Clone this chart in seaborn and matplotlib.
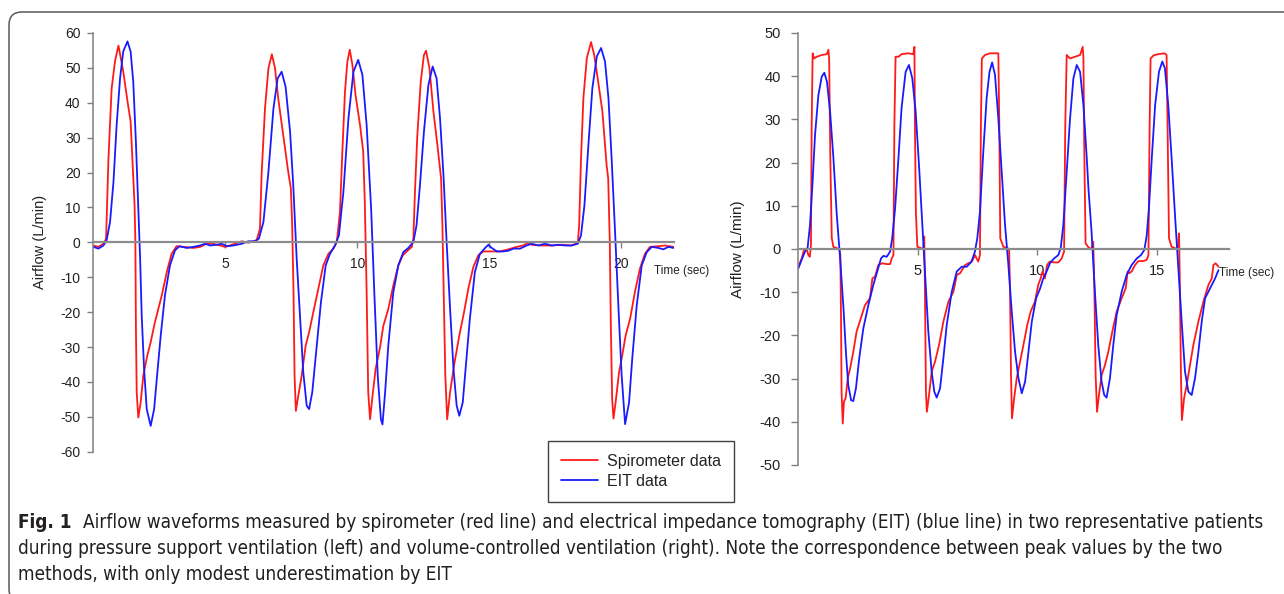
import matplotlib
matplotlib.use("Agg")
import matplotlib.pyplot as plt
import seaborn as sns
from matplotlib import font_manager
from matplotlib.font_manager import FontProperties
from matplotlib.patches import FancyBboxPatch
from matplotlib.transforms import IdentityTransform

# ---------------- data ----------------
# Left panel: pressure support ventilation
left_spiro_t = [0.00, 0.19, 0.38, 0.48, 0.57, 0.69, 0.82, 0.95, 1.13, 1.30, 1.41, 1.49, 1.56, 1.59, 1.61, 1.64, 1.70,
                1.79, 1.89, 2.04, 2.17, 2.33, 2.59, 2.78, 2.96, 3.15, 3.41, 3.79, 4.04, 4.29, 4.54, 4.80, 4.98, 5.17,
                5.36, 5.62, 5.87, 6.18, 6.31, 6.37, 6.50, 6.63, 6.76, 6.88, 7.00, 7.19, 7.38, 7.48, 7.53, 7.58, 7.62,
                7.67, 7.76, 7.89, 8.04, 8.17, 8.33, 8.52, 8.71, 8.90, 9.09, 9.22, 9.34, 9.43, 9.53, 9.62, 9.71, 9.81,
                9.93, 10.10, 10.22, 10.28, 10.35, 10.41, 10.48, 10.56, 10.69, 10.86, 10.98, 11.17, 11.36, 11.55,
                11.72, 11.87, 12.06, 12.12, 12.18, 12.27, 12.40, 12.52, 12.60, 12.73, 12.88, 13.03, 13.17, 13.22,
                13.27, 13.33, 13.40, 13.51, 13.66, 13.86, 14.04, 14.20, 14.39, 14.58, 14.77, 15.02, 15.40, 15.72,
                16.03, 16.28, 16.47, 16.60, 16.98, 17.36, 17.73, 18.11, 18.35, 18.40, 18.47, 18.56, 18.69, 18.85,
                18.97, 19.12, 19.28, 19.44, 19.50, 19.56, 19.60, 19.65, 19.70, 19.78, 19.91, 20.03, 20.16, 20.33,
                20.51, 20.70, 20.89, 21.08, 21.40, 21.65, 21.97]
left_spiro_v = [-0.9, -1.3, -0.4, 1.0, 24, 44, 52, 56.4, 49, 40, 34.6, 22, 10.6, 0, -24, -43, -50.2,
                -45.9, -38.2, -32.5, -28.6, -22.9, -15.2, -8.5, -3.3, -1.1, -1.3, -1.6, -1.3, -0.4, -0.4, -0.9, -1.3, -0.9,
                -0.4, 0.3, -0.1, 0.6, 3.9, 19.3, 38.4, 49.9, 53.9, 49.9, 41.3, 30.7, 20.2, 15.4, 4.9, -14.3, -38.2,
                -48.3, -44, -38.2, -29.6, -25.8, -20, -13.3, -6.6, -3.3, -1.8, 0.1, 8.7, 26, 43.2, 51.8, 55.2, 50.9,
                42.2, 33.6, 26, 11.6, -14.3, -43, -50.7, -44.9, -36.3, -30, -24, -19.1, -12.4, -6.6,
                -3.7, -2.6, -1.3, 1.1, 14.5, 30.7, 46.1, 53.7, 54.9, 49.9, 37.5, 27.9, 18.3, 4.9,
                -14.3, -38.2, -50.7, -43, -35.3, -26.7, -20, -13.3, -7.1, -3.7, -2.6, -2.6, -2.6, -2.0,
                -1.3, -0.9, -0.1, -0.7, -0.9, -0.9, -0.7, -0.9, -0.1, 4.9, 24, 41.3, 52.8, 57.4,
                53.7, 46.1, 37.5, 22.1, 18.3, 0.1, -23.9, -44.9, -50.5, -45.9, -37.3, -32.5, -26.7, -21.9,
                -14.3, -7.6, -3.3, -1.3, -1.1, -0.9, -1.3]

left_eit_t = [0.00, 0.19, 0.38, 0.50, 0.63, 0.76, 0.88, 1.01, 1.13, 1.29, 1.41, 1.51, 1.61, 1.70, 1.77, 1.83, 1.92,
              2.02, 2.17, 2.30, 2.40, 2.55, 2.71, 2.90, 3.09, 3.26, 3.53, 3.79, 4.04, 4.23, 4.42, 4.67, 4.86, 5.05,
              5.30, 5.62, 5.87, 6.12, 6.27, 6.44, 6.63, 6.82, 6.98, 7.13, 7.28, 7.45, 7.57, 7.70, 7.83, 7.95, 8.08,
              8.17, 8.29, 8.46, 8.62, 8.80, 8.96, 9.15, 9.30, 9.47, 9.66, 9.85, 10.03, 10.19, 10.35, 10.52, 10.64,
              10.77, 10.89, 10.95, 11.05, 11.17, 11.36, 11.55, 11.74, 11.93, 12.12, 12.24, 12.37, 12.52, 12.69,
              12.85, 13.00, 13.13, 13.26, 13.38, 13.51, 13.64, 13.76, 13.86, 13.99, 14.11, 14.26, 14.45, 14.64,
              14.84, 14.96, 15.09, 15.28, 15.53, 15.72, 15.91, 16.16, 16.41, 16.60, 16.85, 17.10, 17.36, 17.61,
              17.86, 18.11, 18.35, 18.47, 18.60, 18.75, 18.90, 19.07, 19.23, 19.38, 19.51, 19.63, 19.76, 19.89,
              20.01, 20.14, 20.29, 20.41, 20.58, 20.77, 20.96, 21.15, 21.40, 21.59, 21.78, 21.97]
left_eit_v = [-1.3, -1.8, -0.9, 0.6, 5.8, 17.3, 33.6, 47, 54.7, 57.6, 54.7, 46, 28.8, 9.7, -4.7, -21, -36.3,
              -47.8, -52.6, -47.8, -39.2, -26.7, -15.2, -6.6, -2.3, -1.1, -1.6, -1.3, -0.9, -0.4, -0.9, -0.7, -0.4, -1.1,
              -0.9, -0.4, 0.3, 0.3, 1.1, 5.8, 20.2, 38.4, 47, 48.9, 44.6, 31.7, 16.4, -4.7, -21.9, -37.3, -46.8,
              -47.8, -43, -29.6, -17.1, -6.6, -3.3, -0.9, 2, 14.5, 35.5, 48.9, 52.3, 48, 33.6, 9.7, -14.3,
              -38.2, -50.7, -52.2, -43, -29.6, -14.3, -6.6, -2.8, -1.6, 0.1, 4.9, 16.4, 31.7, 45.1,
              50.4, 47, 35.5, 19.3, 0.1, -19, -36.3, -46.8, -49.7, -45.9, -35.3, -21.9, -8.5, -3.3,
              -1.6, -0.7, -1.6, -2.6, -2.6, -2.4, -1.8, -1.8, -0.9, -0.4, -0.9, -0.4, -0.9, -0.7,
              -0.9, -0.9, -0.4, 2, 10.6, 27.9, 44.2, 53.3, 55.7, 51.8, 41.3, 24, 3, -19,
              -38.2, -52.1, -45.9, -33.4, -18.1, -6.6, -2.8, -1.3, -1.6, -2.0, -1.3, -1.6]

# Right panel: volume-controlled ventilation
right_spiro_t = [0.00, 0.14, 0.25, 0.35, 0.42, 0.48, 0.53, 0.56, 0.60, 0.66, 0.77, 0.98, 1.19, 1.26, 1.29, 1.34, 1.40,
                 1.47, 1.61, 1.72, 1.76, 1.79, 1.81, 1.86, 1.91, 1.98, 2.07, 2.17, 2.30, 2.44, 2.62, 2.79, 3.00, 3.10,
                 3.21, 3.35, 3.52, 3.70, 3.84, 3.91, 3.98, 4.02, 4.07, 4.19, 4.32, 4.60, 4.81, 4.86, 4.88, 4.92, 4.98,
                 5.13, 5.23, 5.27, 5.30, 5.34, 5.38, 5.47, 5.58, 5.72, 5.89, 6.07, 6.28, 6.49, 6.63, 6.77, 6.98, 7.12,
                 7.26, 7.40, 7.46, 7.53, 7.60, 7.64, 7.68, 7.81, 8.02, 8.37, 8.41, 8.45, 8.58, 8.72, 8.82, 8.86, 8.90,
                 8.94, 9.03, 9.14, 9.28, 9.42, 9.58, 9.72, 9.90, 10.04, 10.14, 10.22, 10.32, 10.41, 10.52, 10.67,
                 10.88, 11.02, 11.12, 11.17, 11.23, 11.37, 11.58, 11.79, 11.90, 11.93, 11.97, 12.02, 12.14, 12.27,
                 12.34, 12.39, 12.44, 12.50, 12.58, 12.69, 12.83, 12.97, 13.14, 13.32, 13.53, 13.70, 13.78, 13.85,
                 13.95, 14.09, 14.23, 14.44, 14.58, 14.65, 14.70, 14.74, 14.86, 15.06, 15.33, 15.41, 15.45, 15.51,
                 15.62, 15.76, 15.87, 15.93, 15.97, 16.01, 16.05, 16.14, 16.25, 16.39, 16.53, 16.74, 16.95, 17.16,
                 17.30, 17.37, 17.46, 17.58]
right_spiro_v = [-4.1, -2.2, 0, 0, -1.4, -1.8, 0.9, 28.7, 45.3, 44.1, 44.5, 44.9, 45.1, 46.1, 44.1, 21, 2.5,
                 0.5, 0.2, 0, -1.4, -17.6, -33, -40.4, -35.3, -34.6, -29.9, -27.6, -23.8, -19.1, -16, -13, -11.4, -6.8,
                 -6.4, -3.7, -3.3, -3.5, -3.5, -2.2, -1.4, 28.7, 44.5, 44.5, 45.1, 45.3, 45.1, 46.8, 28.7, 8.6, 0.5,
                 0.2, 0, 2.9, -9.9, -33, -37.7, -33.8, -28.4, -26.1, -22.2, -16.8, -12.2, -9.9, -6, -5.6, -3.7, -3.3,
                 -2.9, -1.4, -2.2, -2.9, -1.4, 28.7, 44.1, 44.9, 45.3, 45.3, 28.7, 2.5, 0.5, 0.3, 0, -9.9, -29.2,
                 -39.2, -34.6, -29.9, -26.1, -22.2, -17.6, -14.5, -12.2, -8.3, -6.8, -5.2, -6.8, -3.7, -2.9, -3.1,
                 -3.1, -2.2, -0.6, 28.7, 44.9, 44.1, 44.5, 44.9, 46.8, 44.1, 21, 1.3, 0.4, 0,
                 1.7, -9.9, -29.2, -37.7, -33.8, -29.2, -26.9, -23.8, -19.1, -14.5, -11.4, -9.1, -5.2, -5.6,
                 -5.2, -3.7, -2.8, -2.8, -2.5, -1.4, 28.7, 44.1, 44.8, 45.1, 45.3, 44.9, 28.7, 2.5,
                 0.5, 0.2, 0, 3.6, -9.9, -29.2, -39.6, -34.6, -31.5, -26.9, -22.2, -16.8, -12.2, -8.3,
                 -6.8, -3.7, -3.3, -4.1]

right_eit_t = [0.00, 0.14, 0.28, 0.39, 0.49, 0.59, 0.70, 0.84, 0.98, 1.09, 1.20, 1.33, 1.47, 1.61, 1.75, 1.89, 2.00,
               2.09, 2.21, 2.30, 2.41, 2.55, 2.72, 2.93, 3.14, 3.32, 3.46, 3.56, 3.70, 3.84, 3.93, 4.05, 4.19, 4.32,
               4.49, 4.63, 4.77, 4.91, 5.05, 5.19, 5.33, 5.44, 5.58, 5.69, 5.79, 5.93, 6.07, 6.21, 6.42, 6.63, 6.84,
               7.05, 7.25, 7.39, 7.49, 7.60, 7.74, 7.88, 8.00, 8.11, 8.23, 8.37, 8.51, 8.65, 8.79, 8.93, 9.07, 9.21,
               9.35, 9.49, 9.63, 9.77, 9.95, 10.12, 10.25, 10.39, 10.53, 10.70, 10.88, 10.98, 11.09, 11.23, 11.37,
               11.51, 11.65, 11.79, 11.93, 12.07, 12.14, 12.27, 12.41, 12.55, 12.69, 12.80, 12.90, 13.04, 13.18,
               13.32, 13.53, 13.74, 13.95, 14.16, 14.34, 14.48, 14.58, 14.67, 14.79, 14.93, 15.09, 15.23, 15.34,
               15.48, 15.62, 15.77, 15.91, 16.05, 16.18, 16.32, 16.46, 16.60, 16.74, 16.88, 17.02, 17.23, 17.44,
               17.58]
right_eit_v = [-4.5, -2.5, -0.6, 0.3, 5.6, 14.8, 26.4, 35.6, 39.9, 40.8, 38.7, 31.8, 21, 7.9, -2.2, -13.7, -24.5,
               -31.5, -35, -35.2, -32.3, -25.3, -18.4, -13, -8.3, -4.9, -2.2, -1.6, -1.8, -0.6, 2.5, 9.4, 21, 32.6,
               41, 42.6, 39.5, 31.8, 19.4, 5.6, -8.3, -19.1, -28.4, -33, -34.4, -32.3, -25.3, -17.6, -9.9, -5.2, -4.1,
               -4.1, -2.9, -0.6, 2.5, 8.6, 22.5, 34.9, 41, 43.2, 40.3, 30.2, 17.9, 5.6, -3.7, -14.5, -23.8, -29.9,
               -33.4, -30.7, -23.8, -16.8, -11.4, -9.1, -6.8, -5.2, -3.3, -2.2, -1.4, 0.2, 5.6, 17.9, 30.2,
               39.5, 42.6, 41, 33.3, 21, 14, 4, -9.9, -22.2, -30.7, -33.8, -34.4, -29.9, -22.2,
               -15.3, -9.9, -6, -3.7, -2.2, -1.4, -0.2, 3.2, 9.4, 21, 33.3, 41, 43.4, 41.8,
               33.3, 21, 7.1, -5.2, -17.6, -28.4, -33, -33.8, -29.9, -23.8, -16.8, -11.4, -9.1, -6.8,
               -4.9]

left_yticks = [60, 50, 40, 30, 20, 10, 0, -10, -20, -30, -40, -50, -60]
left_xticks = [5, 10, 15, 20]
right_yticks = [50, 40, 30, 20, 10, 0, -10, -20, -30, -40, -50]
right_xticks = [5, 10, 15]
series_labels = ["Spirometer data", "EIT data"]
y_label = "Airflow (L/min)"
x_label = "Time (sec)"
caption_lead = "Fig. 1"
caption_lines = [
    "Airflow waveforms measured by spirometer (red line) and electrical impedance tomography (EIT) (blue line) in two representative patients",
    "during pressure support ventilation (left) and volume-controlled ventilation (right). Note the correspondence between peak values by the two",
    "methods, with only modest underestimation by EIT",
]

# ---------------- style ----------------
sns.set_theme(style="white")
plt.rcParams["font.family"] = ["Liberation Sans", "DejaVu Sans"]

W, H, DPI = 1284, 594, 100
fig = plt.figure(figsize=(W / DPI, H / DPI), dpi=DPI, facecolor="white")

RED = "#ff1a1a"
BLUE = "#1a1aff"
AXC = "#808080"
TXT = "#222222"


def px_axes(left, top, right, bottom):
    return fig.add_axes([left / W, 1 - bottom / H, (right - left) / W, (bottom - top) / H])


def style_axes(ax, xmax, ylim, xticks, yticks, fs, ytick_pad, ytick_len):
    ax.set_xlim(0, xmax)
    ax.set_ylim(*ylim)
    ax.set_facecolor("none")
    for s in ["top", "right"]:
        ax.spines[s].set_visible(False)
    ax.spines["left"].set_color(AXC)
    ax.spines["left"].set_linewidth(1.1)
    ax.spines["bottom"].set_position(("data", 0))
    ax.spines["bottom"].set_color("#8c8c8c")
    ax.spines["bottom"].set_linewidth(1.6)
    ax.set_xticks(xticks)
    ax.set_yticks(yticks)
    ax.set_xticklabels([str(v) for v in xticks])
    ax.set_yticklabels([str(v) for v in yticks])
    ax.tick_params(axis="y", direction="out", length=ytick_len, width=1, color=AXC,
                   pad=ytick_pad, labelsize=fs, labelcolor=TXT, left=True)
    ax.tick_params(axis="x", direction="out", length=4, width=1, color=AXC,
                   pad=6.5, labelsize=fs, labelcolor=TXT, bottom=True)
    ax.grid(False)
    ax.set_xlabel("")


# Left panel
axL = px_axes(93.4, 33, 93.4 + 26.4 * 22, 451.7)
sns.lineplot(x=left_spiro_t, y=left_spiro_v, ax=axL, color=RED, lw=1.3, sort=False, estimator=None,
             label=series_labels[0], legend=False)
sns.lineplot(x=left_eit_t, y=left_eit_v, ax=axL, color=BLUE, lw=1.3, sort=False, estimator=None,
             label=series_labels[1], legend=False)
style_axes(axL, 22, (-60, 60), left_xticks, left_yticks, 10, 5.0, 4.3)
axL.set_ylabel(y_label, fontsize=10.5, color=TXT)
axL.yaxis.set_label_coords(-0.080, 0.5)
axL.text(21.24, -8.2, x_label, fontsize=8.5, color=TXT, ha="left", va="center", clip_on=False)

# Right panel
axR = px_axes(798.3, 33, 798.3 + 23.9 * 18, 465)
sns.lineplot(x=right_spiro_t, y=right_spiro_v, ax=axR, color=RED, lw=1.3, sort=False, estimator=None,
             legend=False)
sns.lineplot(x=right_eit_t, y=right_eit_v, ax=axR, color=BLUE, lw=1.3, sort=False, estimator=None,
             legend=False)
style_axes(axR, 18, (-50, 50), right_xticks, right_yticks, 10.5, 7.5, 5.0)
axR.set_ylabel(y_label, fontsize=11, color=TXT)
axR.yaxis.set_label_coords(-0.123, 0.5)
axR.text(17.62, -5.6, x_label, fontsize=8.5, color=TXT, ha="left", va="center", clip_on=False)

# Legend
handles = axL.get_lines()[:2]
leg = axL.legend(handles, series_labels, loc="upper left",
                 bbox_to_anchor=(548 / W, 1 - 441 / H), bbox_transform=fig.transFigure,
                 fontsize=11.5, frameon=True, fancybox=False, borderaxespad=0, borderpad=0.8,
                 handlelength=2.3, handletextpad=0.6, labelspacing=0.32)
leg.get_frame().set_edgecolor("#111111")
leg.get_frame().set_linewidth(1.0)
for t in leg.get_texts():
    t.set_color(TXT)

# Rounded frame around the figure panel
frame = FancyBboxPatch((9, -8), 1320, 590, boxstyle="round,pad=0,rounding_size=13",
                       transform=IdentityTransform(), fill=False, edgecolor="#5a5a5a", lw=1.1,
                       clip_on=False)
fig.add_artist(frame)


# Caption: prefer a narrow/condensed sans family if one is installed (regular body, bold lead)
def _w(f):
    w = f.weight
    if isinstance(w, str):
        w = font_manager.weight_dict.get(w, 400)
    return w


cands = [f for f in font_manager.fontManager.ttflist
         if f.style == "normal" and "Mono" not in f.name and "Sans" in f.name
         and ("Condensed" in f.name or "Narrow" in f.name or f.stretch in ("condensed", "semi-condensed"))]
if cands:
    # prefer families that have a regular-weight face
    reg = min(cands, key=lambda f: (abs(_w(f) - 400), "Semi" in f.name))
    same = [f for f in cands if f.name == reg.name] or [reg]
    bld = min(same, key=lambda f: abs(_w(f) - 700))
    body_fp = FontProperties(fname=reg.fname)
    lead_fp = FontProperties(fname=bld.fname)
else:
    body_fp = FontProperties(family=["Liberation Sans", "DejaVu Sans"])
    lead_fp = FontProperties(family=["Liberation Sans", "DejaVu Sans"], weight="bold")

cap_kw = dict(color="#231f20", va="center", ha="left")
renderer = fig.canvas.get_renderer()
fs = 12.0
lead = fig.text(18 / W, 1 - 523 / H, caption_lead, fontproperties=lead_fp, **cap_kw)
body = fig.text(70 / W, 1 - 523 / H, caption_lines[0], fontproperties=body_fp, **cap_kw)
lead.set_fontsize(fs)
body.set_fontsize(fs)
for _ in range(3):
    lead_w = lead.get_window_extent(renderer).width
    x0 = 18 + lead_w + 12
    body.set_x(x0 / W)
    wpx = body.get_window_extent(renderer).width
    fs = fs * (1258 - x0) / wpx
    body.set_fontsize(fs)
    lead.set_fontsize(fs)
for i, yy in ((1, 549), (2, 574)):
    t = fig.text(18 / W, 1 - yy / H, caption_lines[i], fontproperties=body_fp, **cap_kw)
    t.set_fontsize(fs)

fig.savefig("out.png", dpi=DPI, facecolor="white")
